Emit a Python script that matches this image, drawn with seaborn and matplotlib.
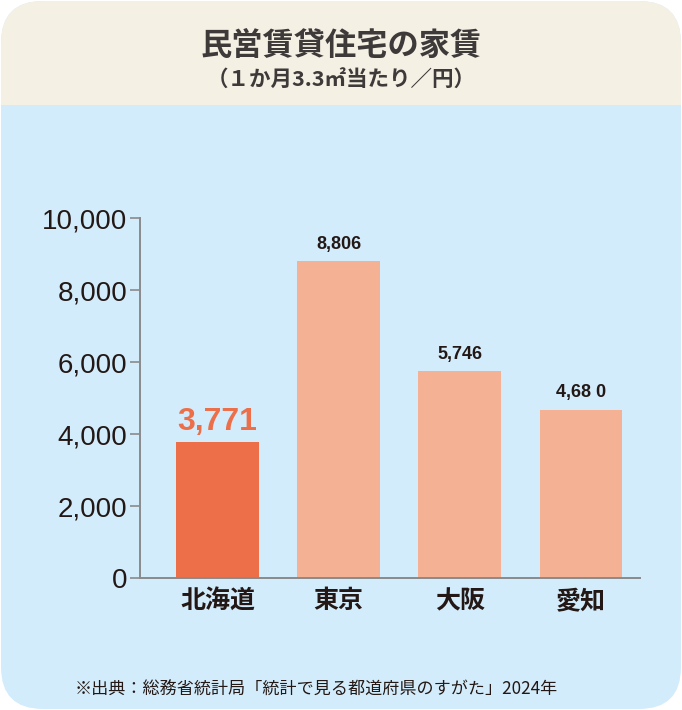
import numpy as np
import pandas as pd
import matplotlib
matplotlib.use("Agg")
import matplotlib.pyplot as plt
from matplotlib.patches import FancyBboxPatch, Rectangle
import seaborn as sns

# data
prefs = ["北海道", "東京", "大阪", "愛知"]
rent = [3771, 8806, 5746, 4680]
rent_labels = ["3,771", "8,806", "5,746", "4,68 0"]
yticks = [0, 2000, 4000, 6000, 8000, 10000]
ytick_labels = ["0", "2,000", "4,000", "6,000", "8,000", "10,000"]

title = "民営賃貸住宅の家賃"
subtitle = "（１か月3.3㎡当たり／円）"
source = "※出典：総務省統計局「統計で見る都道府県のすがた」2024年"

df = pd.DataFrame({"pref": prefs, "rent": rent})

sns.set_theme(style="white")
plt.rcParams["font.family"] = ["Noto Sans CJK JP", "DejaVu Sans"]

W, H = 682, 710
fig = plt.figure(figsize=(W / 100, H / 100), dpi=100)
fig.patch.set_facecolor("white")

# background panel (rounded card)
bg = fig.add_axes([0, 0, 1, 1], zorder=0)
bg.set_xlim(0, W)
bg.set_ylim(H, 0)
bg.axis("off")
card = FancyBboxPatch((1, 1), W - 2, H - 2,
                      boxstyle="round,pad=0,rounding_size=42",
                      facecolor="#d3ecfb", edgecolor="none")
bg.add_patch(card)
band = Rectangle((0, 0), W, 105, facecolor="#f4f0e4", edgecolor="none")
bg.add_patch(band)
band.set_clip_path(card)

bg.text(W / 2, 46, title, ha="center", va="center", fontsize=22.5,
        fontweight="bold", color="#3e3a39")
bg.text(W / 2, 80, subtitle, ha="center", va="center", fontsize=15.5,
        fontweight="bold", color="#3e3a39")
bg.text(75, 690, source, ha="left", va="center", fontsize=12.3,
        color="#231815")

# main chart
ax = fig.add_axes([140 / W, 1 - 578 / H, 500 / W, 360 / H], zorder=1)
ax.set_facecolor("none")
colors = {p: ("#ec6f4a" if i == 0 else "#f5b193") for i, p in enumerate(prefs)}
sns.barplot(data=df, x="pref", y="rent", hue="pref", palette=colors,
            width=0.68, legend=False, ax=ax, saturation=1, linewidth=0)

ax.set_xlim(-0.64, 3.49)
ax.set_ylim(0, 10000)
ax.set_yticks(yticks)
ax.set_yticklabels(ytick_labels, fontsize=20, family=["Liberation Sans", "DejaVu Sans"],
                   color="#231815")
ax.set_xticks(range(len(prefs)))
ax.set_xticklabels(prefs, fontsize=18, fontweight="bold", color="#231815")
ax.set_xlabel("")
ax.set_ylabel("")

for s in ["top", "right"]:
    ax.spines[s].set_visible(False)
for s in ["left", "bottom"]:
    ax.spines[s].set_color("#8a8a8a")
    ax.spines[s].set_linewidth(1.4)
ax.tick_params(axis="y", length=7, width=1.2, color="#8a8a8a", pad=2, left=True)
ax.tick_params(axis="x", length=0, pad=8)

for i, (v, lab) in enumerate(zip(rent, rent_labels)):
    if i == 0:
        ax.annotate(lab, (i, v), xytext=(0, 4), textcoords="offset points",
                    ha="center", va="bottom", fontsize=23, fontweight="bold",
                    color="#ec6f4a", family=["Liberation Sans", "DejaVu Sans"])
    else:
        ax.annotate(lab, (i, v), xytext=(0, 6), textcoords="offset points",
                    ha="center", va="bottom", fontsize=13, fontweight="bold",
                    color="#231815", family=["Liberation Sans", "DejaVu Sans"])

fig.savefig("out.png", dpi=100, facecolor=fig.get_facecolor())
